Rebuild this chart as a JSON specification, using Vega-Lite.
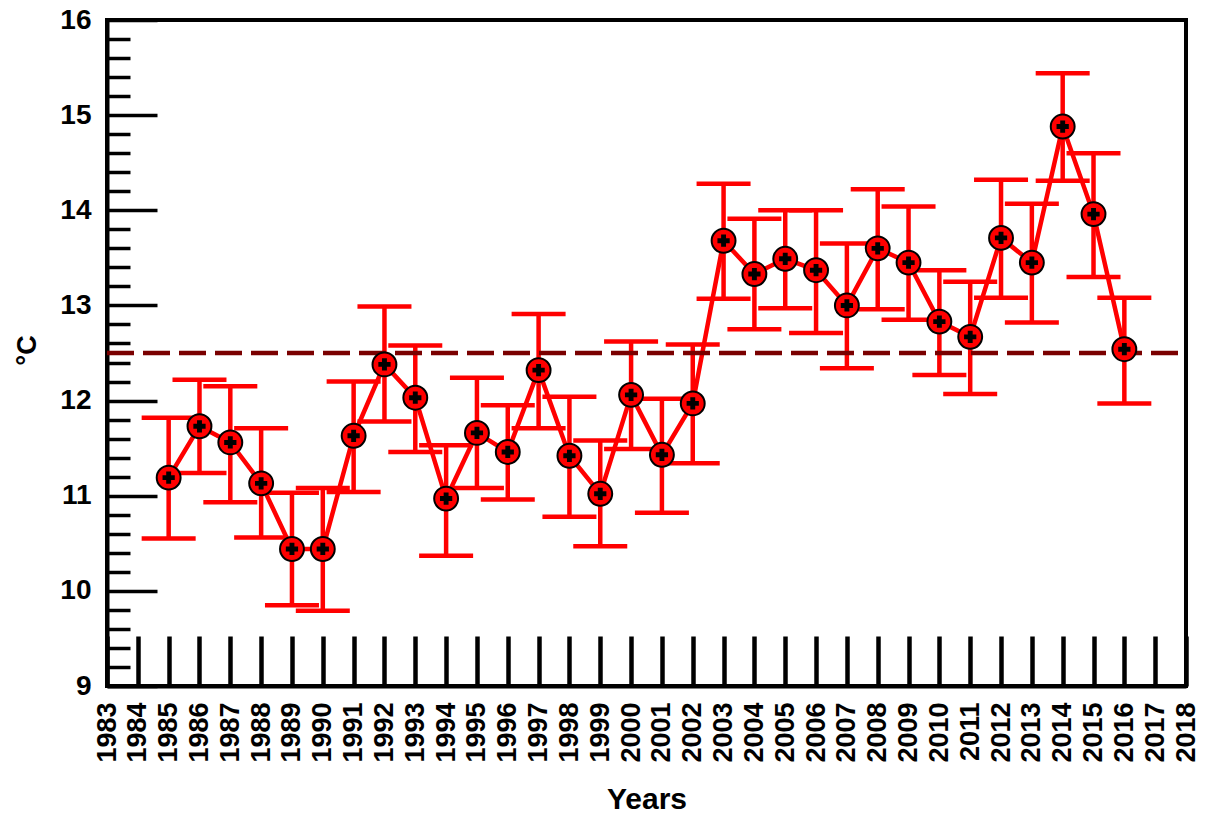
{
  "$schema": "https://vega.github.io/schema/vega-lite/v6.json",
  "autosize": "none",
  "width": 1079,
  "height": 666,
  "padding": {"left": 107, "top": 20, "right": 23, "bottom": 128},
  "background": "white",
  "config": {
    "view": {"stroke": "black", "strokeWidth": 4},
    "axis": {"labelFont": "Liberation Sans", "titleFont": "Liberation Sans", "labelColor": "black", "titleColor": "black", "domainColor": "black", "tickColor": "black", "grid": false}
  },
  "data": {"values": [
    {"year": 1985, "t": 11.19, "lo": 10.55, "hi": 11.82},
    {"year": 1986, "t": 11.73, "lo": 11.24, "hi": 12.22},
    {"year": 1987, "t": 11.56, "lo": 10.93, "hi": 12.15},
    {"year": 1988, "t": 11.13, "lo": 10.56, "hi": 11.71},
    {"year": 1989, "t": 10.44, "lo": 9.85, "hi": 11.03},
    {"year": 1990, "t": 10.44, "lo": 9.79, "hi": 11.08},
    {"year": 1991, "t": 11.63, "lo": 11.04, "hi": 12.2},
    {"year": 1992, "t": 12.38, "lo": 11.78, "hi": 12.99},
    {"year": 1993, "t": 12.03, "lo": 11.46, "hi": 12.58},
    {"year": 1994, "t": 10.97, "lo": 10.37, "hi": 11.53},
    {"year": 1995, "t": 11.66, "lo": 11.08, "hi": 12.24},
    {"year": 1996, "t": 11.46, "lo": 10.96, "hi": 11.95},
    {"year": 1997, "t": 12.32, "lo": 11.71, "hi": 12.91},
    {"year": 1998, "t": 11.42, "lo": 10.78, "hi": 12.04},
    {"year": 1999, "t": 11.02, "lo": 10.47, "hi": 11.58},
    {"year": 2000, "t": 12.06, "lo": 11.49, "hi": 12.62},
    {"year": 2001, "t": 11.43, "lo": 10.82, "hi": 12.02},
    {"year": 2002, "t": 11.97, "lo": 11.34, "hi": 12.59},
    {"year": 2003, "t": 13.68, "lo": 13.07, "hi": 14.28},
    {"year": 2004, "t": 13.33, "lo": 12.75, "hi": 13.91},
    {"year": 2005, "t": 13.49, "lo": 12.97, "hi": 14.0},
    {"year": 2006, "t": 13.37, "lo": 12.71, "hi": 14.0},
    {"year": 2007, "t": 13.0, "lo": 12.34, "hi": 13.65},
    {"year": 2008, "t": 13.6, "lo": 12.96, "hi": 14.22},
    {"year": 2009, "t": 13.45, "lo": 12.85, "hi": 14.04},
    {"year": 2010, "t": 12.83, "lo": 12.27, "hi": 13.37},
    {"year": 2011, "t": 12.67, "lo": 12.07, "hi": 13.25},
    {"year": 2012, "t": 13.71, "lo": 13.08, "hi": 14.32},
    {"year": 2013, "t": 13.45, "lo": 12.82, "hi": 14.07},
    {"year": 2014, "t": 14.88, "lo": 14.31, "hi": 15.44},
    {"year": 2015, "t": 13.96, "lo": 13.3, "hi": 14.6},
    {"year": 2016, "t": 12.54, "lo": 11.97, "hi": 13.08}
  ]},
  "encoding": {
    "x": {"field": "year", "type": "quantitative",
      "scale": {"domain": [1983, 2018], "nice": false, "zero": false},
      "axis": {"values": [1983,1984,1985,1986,1987,1988,1989,1990,1991,1992,1993,1994,1995,1996,1997,1998,1999,2000,2001,2002,2003,2004,2005,2006,2007,2008,2009,2010,2011,2012,2013,2014,2015,2016,2017,2018],
        "format": "d", "labelOverlap": false, "labelFlush": false, "labelBound": false, "labelSeparation": 0,
        "labelAngle": -90, "labelAlign": "right", "labelBaseline": "middle", "labelFontSize": 27, "labelFontWeight": "bold",
        "labelPadding": 66, "tickSize": -50, "tickWidth": 4.5, "domainWidth": 4,
        "title": "Years", "titleFontSize": 30, "titleFontWeight": "bold", "titlePadding": 22}}
  },
  "resolve": {"axis": {"y": "independent"}},
  "layer": [
    {
      "mark": {"type": "line", "color": "#ff0000", "strokeWidth": 4.5},
      "encoding": {
        "y": {"field": "t", "type": "quantitative",
          "scale": {"domain": [9, 16], "nice": false, "zero": false},
          "axis": {"orient": "left", "values": [9,10,11,12,13,14,15,16], "labelFontSize": 28, "labelFontWeight": "bold",
            "labelPadding": 66, "tickSize": -50, "tickWidth": 3.5, "domainWidth": 4, "labelFlush": false, "labelOverlap": false,
            "title": "°C", "titleFontSize": 27, "titleFontWeight": "bold", "titleX": -66, "titleY": 330, "titleAngle": -90}}
      }
    },
    {
      "mark": {"type": "rule", "color": "#ff0000", "strokeWidth": 4.5},
      "encoding": {
        "y": {"field": "lo", "type": "quantitative",
          "axis": {"orient": "left", "values": [9.2,9.4,9.6,9.8,10.2,10.4,10.6,10.8,11.2,11.4,11.6,11.8,12.2,12.4,12.6,12.8,13.2,13.4,13.6,13.8,14.2,14.4,14.6,14.8,15.2,15.4,15.6,15.8],
            "labels": false, "domain": false, "tickSize": -23, "tickWidth": 3.5, "title": null}},
        "y2": {"field": "hi"}
      }
    },
    {
      "mark": {"type": "tick", "orient": "horizontal", "color": "#ff0000", "size": 54, "thickness": 4.5, "opacity": 1},
      "encoding": {
        "y": {"field": "lo", "type": "quantitative", "axis": null}
      }
    },
    {
      "mark": {"type": "tick", "orient": "horizontal", "color": "#ff0000", "size": 54, "thickness": 4.5, "opacity": 1},
      "encoding": {
        "y": {"field": "hi", "type": "quantitative", "axis": null}
      }
    },
    {
      "data": {"values": [{"year": 1983, "yearEnd": 2018, "ref": 12.5}]},
      "mark": {"type": "rule", "color": "#7a0000", "strokeWidth": 4.5, "strokeDash": [27, 9]},
      "encoding": {
        "x2": {"field": "yearEnd"},
        "y": {"field": "ref", "type": "quantitative", "axis": null}
      }
    },
    {
      "mark": {"type": "point", "shape": "circle", "filled": true, "fill": "#ff0000", "stroke": "black", "strokeWidth": 2, "size": 570, "opacity": 1},
      "encoding": {
        "y": {"field": "t", "type": "quantitative", "axis": null}
      }
    },
    {
      "mark": {"type": "point", "shape": "cross", "filled": true, "fill": "black", "strokeWidth": 0, "size": 150, "opacity": 1},
      "encoding": {
        "y": {"field": "t", "type": "quantitative", "axis": null}
      }
    }
  ]
}
